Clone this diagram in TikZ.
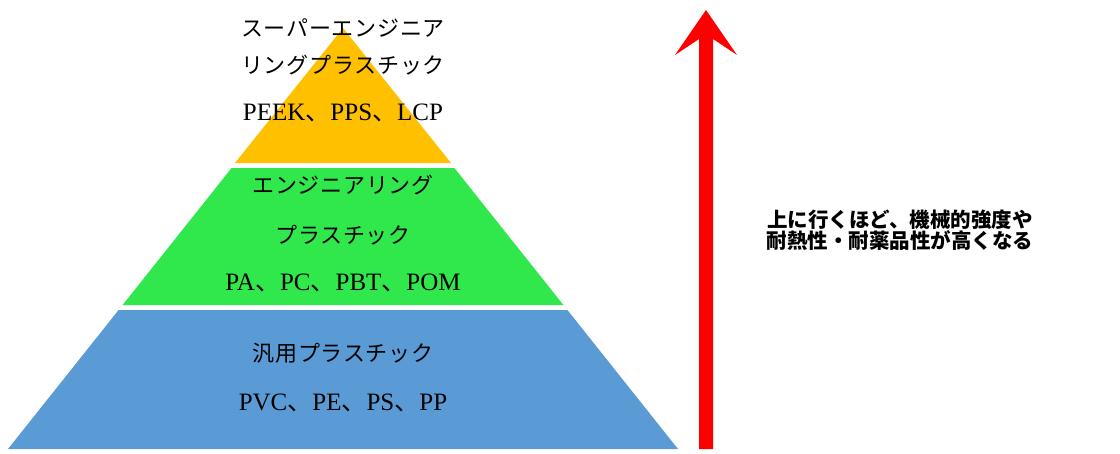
\documentclass[tikz,border=0pt]{standalone}
\usepackage{fontspec}
\setmainfont{Liberation Serif}
\newfontfamily\jp{Noto Sans CJK JP}
\newfontfamily\jpw[LetterSpace=3.5]{Noto Sans CJK JP}
\definecolor{orangeL}{HTML}{FFC000}
\definecolor{greenL}{HTML}{30E84B}
\definecolor{blueL}{HTML}{5B9BD5}
\definecolor{redA}{HTML}{FF0000}
\begin{document}
\begin{tikzpicture}[x=1pt,y=-1pt,
  jtxt/.style={font=\jpw\fontsize{22}{22}\selectfont, inner sep=0pt, anchor=center},
  ltxt/.style={font=\fontsize{25}{25}\selectfont, inner sep=0pt, anchor=center},
  rtxt/.style={font=\jp\bfseries\fontsize{20.5}{19.5}\selectfont, inner sep=0pt, align=center, anchor=center},
  layer/.style={draw=none}]
\useasboundingbox (0,0) rectangle (1120,453);
\fill[white] (0,0) rectangle (1120,453);
% pyramid layers
\fill[layer, orangeL] (343,28) -- (451,163) -- (235,163) -- cycle;
\fill[layer, greenL] (231.6,168) -- (454.4,168) -- (563.4,305) -- (122.6,305) -- cycle;
\fill[layer, blueL] (118.6,310) -- (567.4,310) -- (678,449) -- (8,449) -- cycle;
% arrow
\coordinate (abot) at (706,449);
\coordinate (atop) at (706,10);
\fill[redA] (699,449) -- (699,39) -- (675,55) -- (atop) -- (737,55) -- (713,39) -- (713,449) -- cycle;
% texts
\node[jtxt] (s1) at (343,28) {スーパーエンジニア};
\node[jtxt] (s2) at (343,65) {リングプラスチック};
\node[ltxt] (s3) at (343,113) {PEEK{\jp 、}PPS{\jp 、}LCP};
\node[jtxt] (e1) at (343,185) {エンジニアリング};
\node[jtxt] (e2) at (343,235) {プラスチック};
\node[ltxt] (e3) at (343,283) {PA{\jp 、}PC{\jp 、}PBT{\jp 、}POM};
\node[jtxt] (g1) at (343,353) {汎用プラスチック};
\node[ltxt] (g2) at (343,403) {PVC{\jp 、}PE{\jp 、}PS{\jp 、}PP};
\node[rtxt] (note) at (900,230) {上に行くほど、機械的強度や\\耐熱性・耐薬品性が高くなる};
\end{tikzpicture}
\end{document}
